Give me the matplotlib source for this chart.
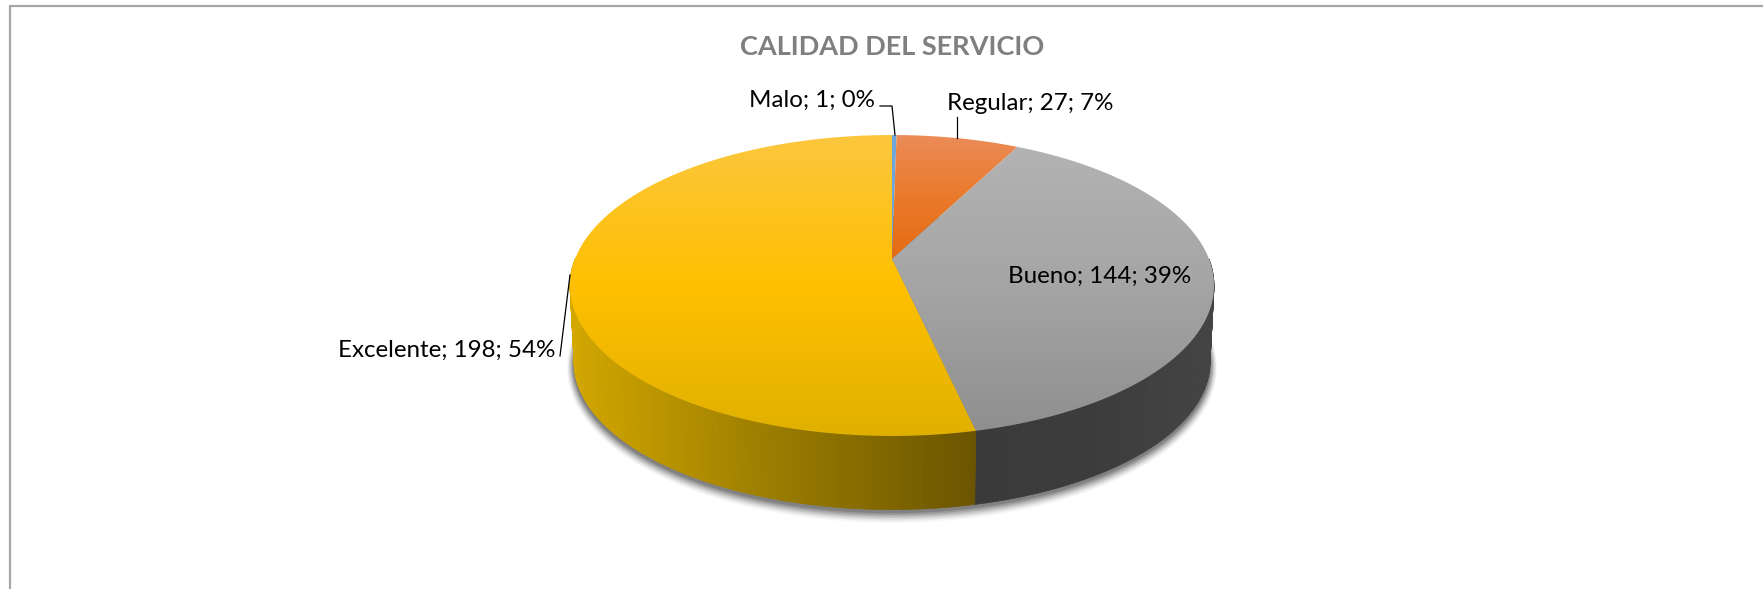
import numpy as np
import matplotlib
matplotlib.use("Agg")
import matplotlib.pyplot as plt
from matplotlib.colors import LinearSegmentedColormap, to_rgb
from matplotlib.patches import Polygon

categories = ["Malo", "Regular", "Bueno", "Excelente"]
values = [1, 27, 144, 198]
percents = [0, 7, 39, 54]
title = "CALIDAD DEL SERVICIO"

W, H = 1763, 589
plt.rcParams["font.family"] = ["Lato", "DejaVu Sans"]

# top face colours, top of the pie to bottom of the pie
top_colors = {
    "Malo": ["#6fa8dc", "#5b9bd5"],
    "Regular": ["#ec8c58", "#ea7a2c", "#e66c14", "#e06410", "#e06410", "#e06410"],
    "Bueno": ["#b4b4b4", "#a5a5a5", "#8e8e8e"],
    "Excelente": ["#fcc73f", "#ffc000", "#e0b000"],
}
# side colours, going around the rim
side_colors = {
    "Bueno": ["#3a3a3a", "#3c3c3c", "#444444"],
    "Excelente": ["#6b5500", "#9a7c00", "#d4a800"],
}

fig = plt.figure(figsize=(W / 100, H / 100), dpi=100)
ax = fig.add_axes([0, 0, 1, 1])
ax.set_xlim(0, W)
ax.set_ylim(H, 0)
ax.axis("off")

# frame, only top and left are visible
ax.plot([10, 10, W], [H, 6, 6], color="#a6a6a6", lw=1.6, solid_joinstyle="miter")

# perspective of the disc
cx = 892
k = 0.176


def project(theta, y0, ay, ax_):
    u, v = np.sin(theta), np.cos(theta)
    w = 1 + k * v
    return cx + ax_ * u / w, y0 - ay * v / w


def top_face(theta):
    return project(theta, 259, 145.8, 317)


def bottom_face(theta):
    return project(theta, 336, 143, 313)


edges = np.radians(np.concatenate([[0], np.cumsum(values)]) / sum(values) * 360)

# soft shadow under the pie
t = np.linspace(0, 2 * np.pi, 300)
for grow, alpha in zip([7, 6, 5, 4, 3, 2, 1], [0.03, 0.05, 0.07, 0.09, 0.11, 0.13, 0.15]):
    x, y = project(t, 338 + grow * 0.4, 143 + grow, 313 + grow)
    ax.fill(x, y, color="#000000", alpha=alpha, lw=0, zorder=1)

# rim: thin strips between the two faces, front half only
for name, a, b in zip(categories, edges[:-1], edges[1:]):
    if name not in side_colors:
        continue
    cmap = LinearSegmentedColormap.from_list(name, side_colors[name])
    steps = np.linspace(a, b, 240)
    for s0, s1 in zip(steps[:-1], steps[1:]):
        if np.cos(s0) > 0 and np.cos(s1) > 0:
            continue
        x0, y0 = top_face(s0)
        x1, y1 = top_face(s1)
        x2, y2 = bottom_face(s1)
        x3, y3 = bottom_face(s0)
        if name == "Excelente":
            frac = ((x0 + x1) / 2 - 570) / (975 - 570)
            col = cmap(1 - np.clip(frac, 0, 1))
        else:
            frac = ((x0 + x1) / 2 - 975) / (1214 - 975)
            col = cmap(np.clip(frac, 0, 1))
        ax.add_patch(Polygon([(x0, y0), (x1, y1), (x2, y2), (x3, y3)], closed=True,
                             fc=col, ec=col, lw=0.5, zorder=2))

# top face, vertical gradient clipped to each slice
for name, a, b in zip(categories, edges[:-1], edges[1:]):
    s = np.linspace(a, b, 200)
    px, py = top_face(s)
    verts = [(cx, 259)] + list(zip(px, py))
    cmap = LinearSegmentedColormap.from_list(name, [to_rgb(c) for c in top_colors[name]])
    poly = Polygon(verts, closed=True, fc="none", ec="none", transform=ax.transData)
    ax.add_patch(poly)
    grad = np.linspace(0, 1, 256).reshape(-1, 1)
    im = ax.imshow(grad, cmap=cmap, extent=[560, 1225, 437, 134], aspect="auto",
                   zorder=3, interpolation="bilinear")
    im.set_clip_path(poly)
ax.set_xlim(0, W)
ax.set_ylim(H, 0)

# leader lines
ax.plot([880, 892, 895], [106, 106, 135], color="#000000", lw=0.9, zorder=5)
ax.plot([957, 957], [117, 138], color="#000000", lw=0.9, zorder=5)
ax.plot([570, 560], [275, 356], color="#000000", lw=0.9, zorder=5)

label_pos = {
    "Malo": (812, 100),
    "Regular": (1030, 103),
    "Bueno": (1100, 276),
    "Excelente": (447, 350),
}
for name, val, pct in zip(categories, values, percents):
    lx, ly = label_pos[name]
    ax.text(lx, ly, f"{name}; {val}; {pct}%", ha="center", va="center",
            fontsize=17.4, color="#000000", zorder=6)

ax.text(892, 47, title, ha="center", va="center", fontsize=19.5,
        fontweight="bold", color="#7f7f7f", zorder=6)

fig.savefig("out.png", dpi=100)
